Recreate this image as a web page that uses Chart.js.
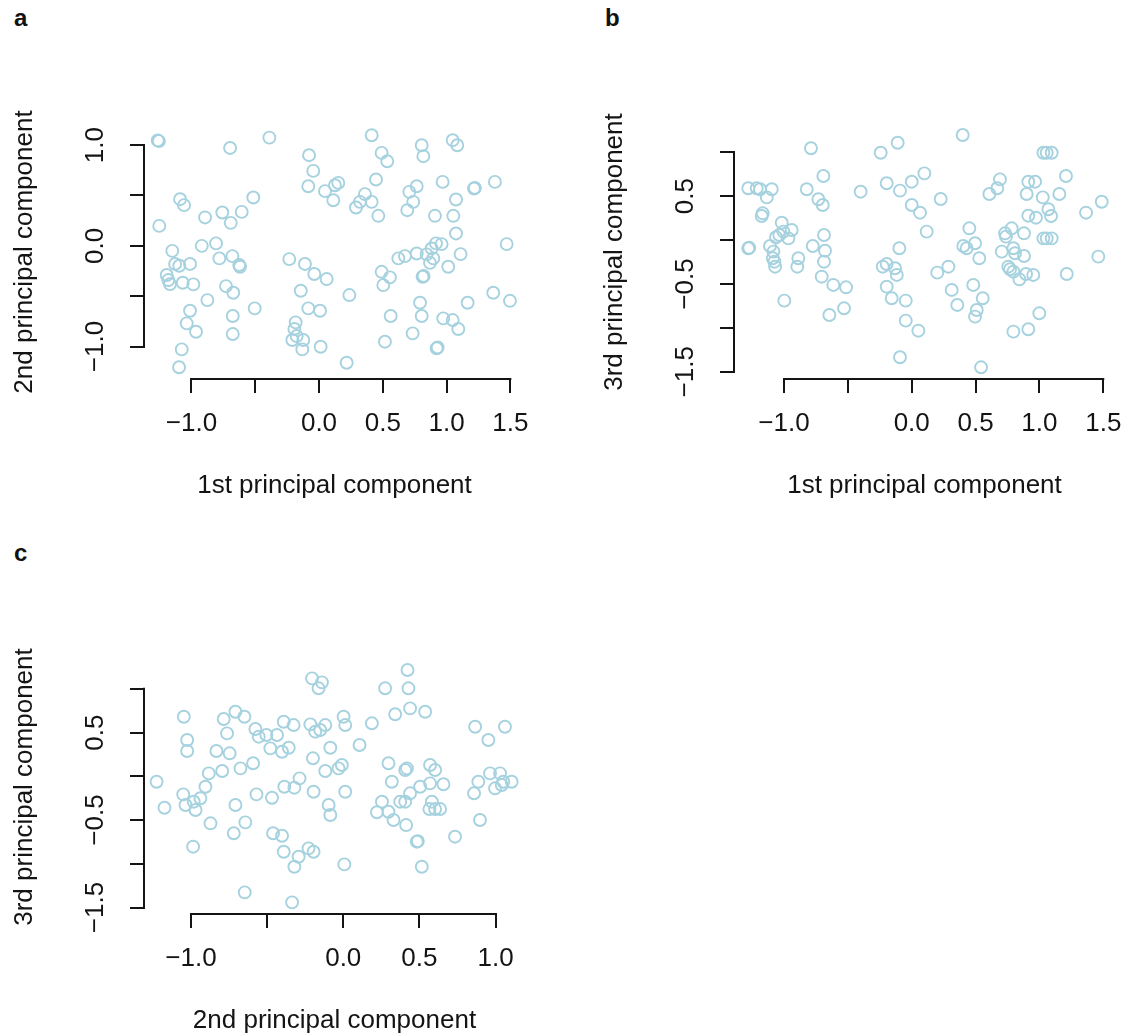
<!DOCTYPE html>
<html>
<head>
<meta charset="utf-8">
<script src="https://cdn.jsdelivr.net/npm/chart.js@4.4.1/dist/chart.umd.min.js"></script>
<style>
  body { margin: 0; background: #fff; }
  #page { position: relative; width: 1139px; height: 1036px; overflow: hidden; }
  #page canvas { position: absolute; }
  .tag { position: absolute; font: bold 24px "Liberation Sans", Arial, sans-serif; line-height: 24px; color: #111; }
</style>
</head>
<body>
<div id="page">
  <div class="tag" style="left:14px;top:6px">a</div>
  <div class="tag" style="left:605px;top:6px">b</div>
  <div class="tag" style="left:14px;top:541px">c</div>
  <canvas id="chartA" width="560" height="520" style="left:0;top:0"></canvas>
  <canvas id="chartB" width="560" height="520" style="left:590px;top:0"></canvas>
  <canvas id="chartC" width="560" height="520" style="left:0;top:535px"></canvas>
</div>
<script>
// scores: [x, y] per sample
const scoresA = [ // 1st vs 2nd component
  [-1.264,1.047],[-1.255,1.040],[-0.697,0.972],[-0.389,1.075],[-0.078,0.90],[-0.045,0.744],[-0.084,0.592],
  [-1.089,0.463],[-1.058,0.404],[-0.515,0.48],[-0.893,0.282],[-0.758,0.331],[-0.606,0.337],[-0.692,0.228],[-1.252,0.198],
  [-0.919,0.0],[-0.807,0.024],[-1.15,-0.05],[-1.128,-0.18],[-1.095,-0.198],[-1.011,-0.18],[-0.781,-0.125],[-0.679,-0.102],
  [-0.625,-0.19],[-0.619,-0.208],[-1.194,-0.29],[-1.181,-0.34],[-1.168,-0.38],[-1.068,-0.367],[-0.985,-0.383],[-0.729,-0.40],
  [-0.672,-0.466],[-0.875,-0.539],[-0.504,-0.621],[-1.011,-0.645],[-1.037,-0.77],[-0.964,-0.853],[-0.676,-0.697],[-0.676,-0.876],
  [-1.076,-1.028],[-1.097,-1.206],[-0.233,-0.132],[-0.11,-0.18],[-0.037,-0.28],[0.06,-0.33],[-0.143,-0.446],[-0.084,-0.621],
  [0.008,-0.645],[-0.183,-0.76],[-0.193,-0.826],[-0.209,-0.935],[-0.175,-0.896],[-0.123,-0.935],[-0.131,-1.028],[0.013,-1.002],
  [0.413,1.098],[0.491,0.923],[0.535,0.84],[0.805,0.999],[0.818,0.89],[1.048,1.049],[1.084,0.999],[0.447,0.659],
  [0.047,0.543],[0.125,0.602],[0.151,0.625],[0.112,0.453],[0.29,0.381],[0.321,0.437],[0.36,0.513],[0.413,0.437],[0.465,0.298],
  [0.708,0.536],[0.766,0.592],[0.739,0.437],[0.692,0.354],[0.969,0.635],[1.215,0.569],[1.222,0.575],[1.379,0.635],[1.074,0.46],
  [0.909,0.298],[1.053,0.298],[1.074,0.123],[1.471,0.017],[0.238,-0.489],[0.217,-1.161],
  [0.622,-0.125],[0.674,-0.102],[0.766,-0.076],[0.844,-0.085],[0.883,-0.026],[0.917,0.024],[0.961,0.017],[0.896,-0.125],
  [0.87,-0.169],[1.013,-0.208],[1.11,-0.082],[0.491,-0.258],[0.556,-0.313],[0.504,-0.39],[0.812,-0.307],[0.82,-0.30],
  [1.366,-0.466],[1.497,-0.546],[1.165,-0.565],[0.792,-0.565],[0.805,-0.697],[0.562,-0.697],[0.974,-0.72],[1.048,-0.737],
  [1.092,-0.826],[0.734,-0.869],[0.517,-0.952],[0.922,-1.018],[0.93,-1.01]
];
const scoresB = [ // 1st vs 3rd component
  [-0.789,1.046],[-1.28,0.59],[-1.214,0.59],[-1.188,0.579],[-1.096,0.579],[-1.135,0.487],[-1.167,0.305],[-1.175,0.274],
  [-1.018,0.198],[-0.94,0.115],[-1.037,0.058],[-1.005,0.096],[-0.966,0.02],[-1.063,0.032],[-1.28,-0.093],[-1.272,-0.088],
  [-1.11,-0.067],[-1.083,-0.132],[-1.088,-0.207],[-1.075,-0.246],[-1.07,-0.303],[-0.888,-0.207],[-0.896,-0.303],[-0.775,-0.067],
  [-0.692,0.73],[-0.822,0.579],[-0.731,0.465],[-0.697,0.40],[-0.687,0.058],[-0.679,-0.121],[-0.687,-0.246],[-0.705,-0.417],
  [-0.614,-0.511],[-0.514,-0.538],[-0.998,-0.69],[-0.645,-0.853],[-0.53,-0.777],[-0.40,0.551],[-0.196,0.647],[-0.243,0.995],
  [-0.11,1.109],[-0.092,0.563],[0.0,0.665],[0.099,0.76],[0.0,0.40],[0.065,0.312],[0.117,0.096],[-0.097,-0.093],
  [-0.227,-0.303],[-0.196,-0.272],[-0.131,-0.321],[-0.117,-0.397],[-0.196,-0.531],[-0.157,-0.663],[-0.047,-0.69],
  [-0.047,-0.918],[0.052,-1.032],[-0.092,-1.335],
  [0.399,1.197],[1.031,0.995],[1.057,0.995],[1.096,0.995],[0.227,0.468],[0.691,0.692],[0.67,0.59],[0.608,0.525],
  [0.913,0.665],[0.966,0.665],[0.90,0.525],[1.026,0.487],[1.208,0.73],[1.156,0.525],[1.488,0.437],[1.365,0.312],
  [0.913,0.278],[0.973,0.255],[1.07,0.351],[1.091,0.274],[0.451,0.134],[0.404,-0.067],[0.43,-0.093],[0.496,-0.036],
  [0.529,-0.207],[0.731,0.077],[0.783,0.134],[0.879,0.077],[0.738,0.039],[1.031,0.02],[1.057,0.02],[1.096,0.02],
  [0.705,-0.132],[0.796,-0.093],[0.809,-0.15],[0.879,-0.181],[0.756,-0.303],[0.77,-0.332],[0.796,-0.36],[0.843,-0.447],
  [0.895,-0.386],[0.952,-0.397],[1.214,-0.386],[1.461,-0.189],[0.2,-0.371],[0.287,-0.303],[0.313,-0.568],[0.357,-0.739],
  [0.482,-0.511],[0.556,-0.663],[0.509,-0.796],[0.496,-0.872],[0.999,-0.834],[0.796,-1.043],[0.913,-1.016],[0.543,-1.449]
];
const scoresC = [ // 2nd vs 3rd component
  [-0.205,1.12],[-0.14,1.074],[-0.162,1.006],[-1.047,0.681],[-0.785,0.655],[-0.708,0.738],[-0.649,0.681],[-0.763,0.491],
  [-1.025,0.415],[-1.025,0.289],[-0.833,0.289],[-0.746,0.263],[-0.577,0.541],[-0.555,0.453],[-0.505,0.472],[-0.435,0.472],
  [-0.479,0.32],[-0.402,0.281],[-0.358,0.327],[-0.391,0.624],[-0.326,0.586],[-0.216,0.594],[-0.184,0.51],[-0.151,0.529],
  [-0.118,0.586],[-0.199,0.206],[-0.118,0.061],[-1.226,-0.062],[-1.051,-0.206],[-1.036,-0.328],[-0.982,-0.29],[-0.97,-0.385],
  [-0.938,-0.251],[-0.905,-0.119],[-0.883,0.034],[-0.795,0.061],[-1.174,-0.359],[-0.675,0.091],[-0.592,0.149],[-0.708,-0.328],
  [-0.872,-0.537],[-0.719,-0.651],[-0.643,-0.526],[-0.986,-0.804],[-0.57,-0.206],[-0.468,-0.245],[-0.387,-0.119],[-0.321,-0.13],
  [-0.287,-0.023],[-0.195,-0.176],[-0.461,-0.651],[-0.402,-0.679],[-0.391,-0.862],[-0.293,-0.919],[-0.228,-0.823],[-0.195,-0.862],
  [-0.321,-1.033],[-0.647,-1.326],[-0.336,-1.44],
  [0.422,1.215],[0.275,1.006],[0.428,1.006],[0.341,0.709],[0.439,0.777],[0.538,0.738],[0.188,0.606],[0.002,0.681],[0.013,0.586],
  [-0.085,0.327],[0.107,0.358],[-0.031,0.091],[-0.009,0.129],[0.013,-0.176],[-0.096,-0.328],[-0.085,-0.442],
  [0.297,0.149],[0.407,0.072],[0.418,0.091],[0.57,0.129],[0.603,0.072],[0.319,-0.062],[0.439,-0.194],[0.505,-0.119],
  [0.57,-0.08],[0.658,-0.091],[0.374,-0.29],[0.407,-0.29],[0.254,-0.29],[0.221,-0.411],[0.297,-0.405],[0.33,-0.499],
  [0.413,-0.557],[0.582,-0.29],[0.566,-0.374],[0.603,-0.374],[0.636,-0.374],[0.483,-0.747],[0.49,-0.74],[0.516,-1.033],
  [0.007,-1.006],[0.734,-0.69],[0.898,-0.499],[0.859,-0.194],[0.887,-0.062],[0.964,0.034],[1.03,0.034],[0.997,-0.137],
  [1.041,-0.099],[1.051,-0.062],[1.106,-0.062],[0.866,0.567],[1.062,0.567],[0.953,0.415]
];

// axis ticks and the labels printed under them ('' = tick without a label)
const ticksPC1 = [-1.0, -0.5, 0, 0.5, 1.0, 1.5];
const labelsPC1 = ['\u22121.0', '', '0.0', '0.5', '1.0', '1.5'];
const ticksPC2y = [-1.0, -0.5, 0, 0.5, 1.0];
const labelsPC2y = ['\u22121.0', '', '0.0', '', '1.0'];
const ticksPC2x = [-1.0, -0.5, 0, 0.5, 1.0];
const labelsPC2x = ['\u22121.0', '', '0.0', '0.5', '1.0'];
const ticksPC3 = [-1.5, -1.0, -0.5, 0, 0.5, 1.0];
const labelsPC3 = ['\u22121.5', '', '\u22120.5', '', '0.5', ''];

// plotting limits of each panel [xmin, xmax, ymin, ymax]
const limitsA = [-1.364, 1.607, -1.3125, 1.19];
const limitsB = [-1.384, 1.584, -1.571, 1.2995];
const limitsC = [-1.302, 1.187, -1.562, 1.318];

const INK = '#141414';
const RING = '#a6d2df';
const FONT = '"Liberation Sans", Arial, Helvetica, sans-serif';

// R-style axis line: only runs from the first to the last tick
const axisLines = {
  id: 'axisLines',
  afterDraw(chart) {
    const { ctx, chartArea } = chart;
    ctx.save();
    ctx.strokeStyle = INK;
    ctx.lineWidth = 2;
    ctx.lineCap = 'square';
    ['x', 'y'].forEach(id => {
      const s = chart.scales[id];
      const a = s.getPixelForValue(s.ticks[0].value);
      const b = s.getPixelForValue(s.ticks[s.ticks.length - 1].value);
      ctx.beginPath();
      if (id === 'x') {
        ctx.moveTo(a, chartArea.bottom + 1); ctx.lineTo(b, chartArea.bottom + 1);
      } else {
        ctx.moveTo(chartArea.left - 1, a); ctx.lineTo(chartArea.left - 1, b);
      }
      ctx.stroke();
    });
    ctx.restore();
  }
};

function axis(ticks, labels, title, limits, horizontal) {
  return {
    type: 'linear',
    min: limits[0],
    max: limits[1],
    afterBuildTicks: s => { s.ticks = ticks.map(v => ({ value: v })); },
    afterFit: s => { if (horizontal) s.height = 142; else s.width = 145; },
    border: { display: false },
    grid: { drawOnChartArea: false, drawTicks: true, tickLength: 15, color: INK, lineWidth: 2 },
    ticks: {
      autoSkip: false,
      color: INK,
      font: { family: FONT, size: 26 },
      padding: horizontal ? 15 : 9,
      minRotation: horizontal ? 0 : 90,
      maxRotation: horizontal ? 0 : 90,
      crossAlign: horizontal ? 'near' : 'center',
      callback: (v, i) => labels[i]
    },
    title: {
      display: true,
      text: title,
      color: INK,
      font: { family: FONT, size: 26 },
      padding: horizontal ? { top: 0, bottom: 19 } : { top: 9, bottom: 0 }
    }
  };
}

function panel(id, scores, xAxis, yAxis) {
  new Chart(document.getElementById(id), {
    type: 'scatter',
    data: {
      datasets: [{
        data: scores.map(p => ({ x: p[0], y: p[1] })),
        pointStyle: 'circle',
        pointRadius: 6,
        pointBorderWidth: 1.9,
        borderColor: RING,
        backgroundColor: 'rgba(0,0,0,0)',
        clip: false
      }]
    },
    options: {
      responsive: false,
      animation: false,
      devicePixelRatio: 1,
      layout: { padding: { left: 0, right: 36, top: 126, bottom: 0 } },
      plugins: { legend: { display: false }, tooltip: { enabled: false } },
      scales: { x: xAxis, y: yAxis }
    },
    plugins: [axisLines]
  });
}

panel('chartA', scoresA,
  axis(ticksPC1, labelsPC1, '1st principal component', limitsA.slice(0, 2), true),
  axis(ticksPC2y, labelsPC2y, '2nd principal component', limitsA.slice(2), false));
panel('chartB', scoresB,
  axis(ticksPC1, labelsPC1, '1st principal component', limitsB.slice(0, 2), true),
  axis(ticksPC3, labelsPC3, '3rd principal component', limitsB.slice(2), false));
panel('chartC', scoresC,
  axis(ticksPC2x, labelsPC2x, '2nd principal component', limitsC.slice(0, 2), true),
  axis(ticksPC3, labelsPC3, '3rd principal component', limitsC.slice(2), false));
</script>
</body>
</html>
